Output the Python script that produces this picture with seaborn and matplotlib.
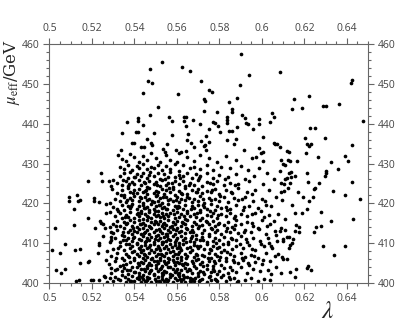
import matplotlib
matplotlib.use("Agg")
import matplotlib.pyplot as plt
import seaborn as sns
import pandas as pd
from matplotlib.ticker import MultipleLocator

# ---------------- data (lambda, mu_eff / GeV) ----------------
sparse_top = [
(.553,455.5),(.5475,453.6),(.5626,454.3),(.566,453.2),(.5713,450.6),(.5466,450.6),(.5482,450.3),
(.5753,448.5),(.544,447.8),(.5604,447.4),(.5727,446.1),(.5734,445.6),(.5512,444.2),(.5727,443.1),
(.5475,442.2),(.5563,441.6),(.5634,441.8),(.5645,441.7),(.5417,441.3),(.5417,440.7),(.5367,440.4),
(.5579,440.7),(.5678,440.9),(.5633,440.6),(.5709,440.0),(.5442,439.6),(.5643,439.4),(.5654,437.3),
(.5408,438.0),(.5419,438.0),(.5342,437.7),(.549,437.7),(.5578,437.1),(.5739,436.9),(.5458,436.1),
(.5388,435.1),(.5399,435.1),(.5479,435.1),(.5485,434.6),(.5648,435.9),(.5666,435.2),(.5714,435.7),
(.5734,434.6),(.5553,434.9),(.5336,433.5),(.5433,434.2),(.5447,434.1),(.5681,434.2),(.5738,433.5),
(.5596,433.3),(.5612,432.7),(.5643,433.2),(.5537,433.6),(.5543,433.0),(.5325,432.1),
]
sparse_mid = [
(.5904,457.5),(.5941,452.3),(.6083,453.0),(.6422,451.0),(.6419,450.3),(.5898,449.6),(.5767,447.9),
(.6221,447.0),(.5882,446.4),(.5847,445.4),(.6149,446.2),(.6362,444.9),(.6288,444.4),(.6302,444.5),
(.6189,443.9),(.6141,443.6),(.5861,443.7),(.5861,442.9),(.5789,442.9),(.6047,442.7),(.6058,441.8),
(.5908,442.1),(.5921,441.3),(.5988,441.1),(.5838,441.6),(.5838,440.8),(.5838,440.1),(.5768,440.5),
(.578,440.2),(.6039,440.5),(.6475,440.6),(.5923,440.2),(.5934,440.0),(.5987,439.8),(.5794,439.3),
(.5803,438.0),(.5957,438.7),(.5882,439.1),(.5753,438.6),(.5846,438.2),(.5859,438.1),(.6227,438.8),
(.6252,439.0),(.6006,436.6),(.5877,436.2),(.5835,435.8),(.6204,436.4),(.6296,436.5),(.6056,435.2),
(.6064,434.8),(.6073,434.9),(.6086,434.2),(.5868,434.8),(.5752,435.3),(.5728,434.5),(.6214,434.9),
(.6232,435.0),(.6221,434.4),(.6422,434.6),(.612,433.2),(.6127,432.9),(.5914,433.5),(.5986,433.8),
(.5996,432.7),(.6007,432.8),(.6208,432.6),(.6265,431.6),(.639,431.9),(.5973,431.6),
]
sparse_right = [
(.6407,430.7),(.6324,430.3),(.6356,428.7),(.6091,430.8),(.6101,430.0),(.6109,429.5),(.6124,430.8),
(.6132,430.6),(.6167,430.7),(.6212,427.7),(.6301,428.0),(.6304,427.5),(.6298,426.8),(.6087,428.0),
(.6108,426.2),(.613,427.6),(.6138,427.8),(.6155,426.9),(.6136,426.7),(.612,426.4),(.6219,425.3),
(.627,425.1),(.6422,425.3),(.6091,425.2),(.6106,424.9),(.6132,425.0),(.6252,423.9),(.6247,423.5),
(.6124,423.9),(.6106,423.0),(.6089,422.9),(.6171,422.8),(.6334,423.1),(.6393,422.1),(.6194,421.6),
(.6243,421.5),(.6224,420.6),(.6464,421.0),(.6095,420.8),(.6142,419.6),(.6212,418.5),(.6157,417.6),
(.6191,417.6),(.6279,417.8),(.643,416.1),(.6327,415.6),(.6111,416.1),(.616,414.6),(.6175,414.1),
(.6158,413.1),(.6174,412.7),(.6255,414.1),(.628,414.3),(.6247,412.9),(.6091,413.7),(.6108,413.3),
(.6086,413.1),(.6101,411.0),(.6117,411.5),(.613,411.5),(.6099,410.6),(.6148,411.0),(.6142,410.0),
(.6132,409.5),(.6127,408.8),(.639,409.4),(.6288,409.2),(.6339,407.0),(.6095,406.6),(.61,406.1),
(.6119,406.1),(.616,403.4),(.6212,403.8),(.6218,404.3),(.6233,403.3),(.6133,402.8),(.6158,401.5),
(.6091,402.6),
(.5935,428.3),(.5965,426.9),(.6005,424.8),(.6035,423.3),(.6055,426.1),(.6065,421.7),(.6045,419.4),
(.6075,417.2),(.6055,415.6),(.6065,412.0),(.6045,409.4),(.6075,407.4),(.6065,404.1),(.6045,402.2),
(.5985,428.9),(.6025,427.5),(.6005,430.6),(.5955,431.4),
]
sparse_left = [
(.5025,413.8),(.5011,408.3),(.5052,407.6),(.503,403.2),(.5056,402.5),(.5075,403.4),(.5091,421.7),
(.5091,420.6),(.5132,422.0),(.5145,420.8),(.5135,420.6),(.5116,418.7),(.5116,414.5),(.5184,416.4),
(.5072,409.9),(.512,408.3),(.5143,408.5),(.5146,404.9),(.5182,405.3),(.5126,400.5),(.5138,400.8),
(.5198,400.8),(.5207,400.8),(.5233,400.8),(.5261,401.6),(.5209,420.5),(.5234,420.3),(.5211,421.3),
(.5182,425.7),(.5245,427.6),(.5248,425.7),(.528,425.7),(.5245,415.1),(.5253,414.8),(.5237,415.6),
(.5264,413.7),(.5253,411.9),(.5286,414.1),(.5233,410.0),(.5234,409.5),(.5231,407.5),(.527,408.1),
(.5268,405.8),(.5257,401.8),(.5284,417.9),(.5286,420.0),(.5268,417.5),(.529,412.9),(.5292,411.6),
(.5284,410.4),(.5292,403.7),(.5308,403.3),(.5284,401.2),(.53,400.6),(.5292,424.4),(.5295,423.5),
(.5301,425.9),(.5268,419.8),(.5215,413.9),(.5188,405.5),
]
core_low = [
(.527,400.3),(.531,401.5),(.533,400.8),(.534,401.9),(.536,400.2),(.537,401.1),(.538,400.6),(.539,401.7),
(.540,400.4),(.541,401.3),(.542,400.9),(.542,401.8),(.543,400.2),(.544,401.0),(.545,400.5),(.546,401.6),
(.546,400.7),(.547,401.2),(.548,400.3),(.549,401.9),(.550,400.6),(.551,401.4),(.552,400.2),(.553,400.9),
(.553,401.7),(.554,400.4),(.555,401.1),(.556,400.7),(.557,401.5),(.558,400.3),(.559,401.2),(.560,400.8),
(.561,401.8),(.562,400.5),(.563,401.0),(.564,400.2),(.565,401.6),(.566,400.6),(.566,401.3),(.567,400.9),
(.568,400.4),(.570,401.7),(.571,400.7),(.572,401.1),(.574,400.3),(.575,401.5),(.576,400.8),(.578,401.0),
(.579,400.5),(.581,401.4),(.583,400.6),(.585,400.9),(.587,401.2),(.589,400.4),(.592,400.7),(.595,401.3),
(.598,400.5),(.601,401.0),(.604,400.8),
(.529,402.4),(.532,403.6),(.534,402.9),(.535,403.8),(.537,402.2),(.538,403.3),(.540,402.7),(.541,403.9),
(.542,402.5),(.543,403.4),(.544,402.1),(.545,403.0),(.546,403.7),(.547,402.6),(.548,403.2),(.549,402.3),
(.550,403.8),(.551,402.9),(.552,403.5),(.553,402.4),(.554,403.1),(.555,402.7),(.556,403.9),(.557,402.2),
(.558,403.4),(.559,402.8),(.560,403.6),(.561,402.5),(.562,403.2),(.563,402.1),(.564,403.7),(.565,402.9),
(.566,403.3),(.567,402.4),(.569,403.8),(.570,402.6),(.571,403.1),(.573,402.3),(.574,403.6),(.576,402.8),
(.577,403.4),(.579,402.2),(.580,403.0),(.582,403.7),(.584,402.5),(.586,403.3),(.588,402.7),(.590,403.9),
(.593,402.4),(.596,403.5),(.599,402.9),(.603,403.2),
(.528,404.8),(.531,405.5),(.533,404.3),(.535,405.9),(.536,404.7),(.538,405.2),(.539,404.1),(.540,405.7),
(.542,404.5),(.543,405.3),(.544,404.9),(.545,405.8),(.546,404.2),(.547,405.1),(.548,404.6),(.549,405.6),
(.550,404.4),(.551,405.0),(.552,405.9),(.553,404.3),(.554,405.4),(.555,404.8),(.556,405.2),(.557,404.1),
(.558,405.7),(.559,404.6),(.560,405.3),(.561,404.9),(.562,405.8),(.563,404.4),(.564,405.1),(.565,404.7),
(.567,405.5),(.568,404.2),(.569,405.9),(.571,404.8),(.572,405.3),(.574,404.5),(.575,405.6),(.577,404.3),
(.578,405.0),(.580,405.8),(.581,404.6),(.583,405.4),(.585,404.1),(.587,405.2),(.589,404.9),(.591,405.7),
(.594,404.4),(.597,405.3),(.600,404.7),(.604,405.6),
(.529,406.9),(.532,407.6),(.534,406.3),(.536,407.2),(.537,406.7),(.539,407.9),(.540,406.4),(.541,407.3),
(.542,406.8),(.543,407.7),(.544,406.2),(.545,407.0),(.546,406.6),(.547,407.5),(.548,406.1),(.549,407.8),
(.550,406.9),(.551,407.4),(.552,406.3),(.553,407.1),(.554,406.7),(.555,407.6),(.556,406.4),(.557,407.9),
(.558,406.8),(.559,407.3),(.560,406.2),(.561,407.7),(.562,406.6),(.564,407.2),(.565,406.9),(.566,407.8),
(.568,406.5),(.569,407.4),(.570,406.1),(.572,407.0),(.573,406.7),(.575,407.6),(.576,406.3),(.578,407.2),
(.579,406.8),(.581,407.9),(.583,406.4),(.585,407.3),(.587,406.9),(.590,407.6),(.592,406.5),(.595,407.1),
(.598,406.2),(.602,407.5),(.606,406.8),
]
core_mid = [
(.530,408.5),(.533,409.3),(.535,408.2),(.536,409.7),(.538,408.9),(.539,409.4),(.540,408.1),(.541,409.8),
(.542,408.7),(.543,409.2),(.544,408.4),(.545,409.6),(.546,408.9),(.547,409.1),(.548,408.3),(.549,409.9),
(.550,408.6),(.551,409.4),(.552,408.2),(.553,409.7),(.554,408.8),(.555,409.2),(.556,408.5),(.557,409.8),
(.558,408.1),(.559,409.5),(.560,408.9),(.561,409.3),(.562,408.4),(.563,409.9),(.565,408.7),(.566,409.1),
(.567,408.3),(.568,409.6),(.570,408.9),(.571,409.3),(.573,408.5),(.574,409.8),(.576,408.2),(.577,409.4),
(.579,408.8),(.580,409.1),(.582,408.4),(.584,409.7),(.586,408.6),(.588,409.3),(.591,408.9),(.594,409.6),
(.597,408.3),(.601,409.2),(.605,408.7),
(.529,410.7),(.531,411.4),(.533,410.2),(.535,411.8),(.536,410.9),(.537,411.3),(.539,410.5),(.540,411.6),
(.541,410.1),(.542,411.1),(.543,410.8),(.544,411.9),(.545,410.4),(.546,411.2),(.547,410.7),(.548,411.5),
(.549,410.3),(.550,411.8),(.551,410.9),(.552,411.3),(.553,410.2),(.554,411.6),(.555,410.6),(.556,411.1),
(.557,410.8),(.558,411.9),(.559,410.4),(.560,411.4),(.561,410.1),(.562,411.7),(.563,410.9),(.564,411.2),
(.566,410.5),(.567,411.8),(.568,410.3),(.569,411.0),(.571,410.7),(.572,411.5),(.574,410.2),(.575,411.9),
(.577,410.6),(.578,411.3),(.580,410.9),(.582,411.6),(.584,410.4),(.586,411.1),(.588,410.8),(.590,411.7),
(.593,410.3),(.596,411.4),(.599,410.6),(.603,411.2),(.607,410.5),
(.530,412.6),(.532,413.3),(.534,412.1),(.535,413.8),(.537,412.9),(.538,413.4),(.539,412.3),(.540,413.1),
(.541,412.7),(.542,413.6),(.543,412.2),(.544,413.9),(.545,412.8),(.546,413.2),(.547,412.4),(.548,413.7),
(.549,412.9),(.550,413.4),(.551,412.1),(.552,413.0),(.553,412.6),(.554,413.8),(.555,412.3),(.556,413.3),
(.557,412.8),(.558,413.5),(.559,412.2),(.560,413.9),(.561,412.7),(.562,413.1),(.564,412.5),(.565,413.6),
(.566,412.9),(.567,413.3),(.569,412.1),(.570,413.8),(.572,412.6),(.573,413.2),(.575,412.4),(.576,413.7),
(.578,412.8),(.579,413.4),(.581,412.2),(.583,413.1),(.585,412.9),(.587,413.6),(.589,412.5),(.592,413.3),
(.595,412.7),(.598,413.9),(.602,412.4),(.606,413.0),
(.530,414.9),(.532,415.6),(.533,414.3),(.535,415.2),(.536,414.7),(.538,415.8),(.539,414.4),(.540,415.3),
(.541,414.1),(.542,415.7),(.543,414.8),(.544,415.1),(.545,414.5),(.546,415.9),(.547,414.2),(.548,415.4),
(.549,414.7),(.550,415.2),(.551,414.9),(.552,415.6),(.553,414.3),(.554,415.0),(.555,414.6),(.556,415.8),
(.557,414.1),(.558,415.3),(.559,414.8),(.560,415.5),(.562,414.4),(.563,415.1),(.564,414.9),(.565,415.7),
(.567,414.2),(.568,415.4),(.569,414.7),(.571,415.9),(.572,414.5),(.574,415.2),(.575,414.8),(.577,415.6),
(.578,414.3),(.580,415.0),(.582,414.6),(.584,415.4),(.586,414.1),(.588,415.8),(.590,414.9),(.593,415.3),
(.596,414.4),(.600,415.7),(.604,414.8),
]
core_high = [
(.531,416.8),(.533,417.5),(.534,416.2),(.536,417.1),(.537,416.6),(.538,417.8),(.540,416.4),(.541,417.3),
(.542,416.9),(.543,417.6),(.544,416.1),(.545,417.2),(.546,416.7),(.547,417.9),(.548,416.3),(.549,417.4),
(.550,416.8),(.551,417.1),(.552,416.5),(.553,417.7),(.554,416.2),(.555,417.3),(.556,416.9),(.557,417.5),
(.559,416.4),(.560,417.8),(.561,416.6),(.562,417.2),(.564,416.1),(.565,417.6),(.566,416.8),(.568,417.3),
(.569,416.5),(.571,417.9),(.572,416.3),(.574,417.1),(.576,416.7),(.577,417.5),(.579,416.2),(.581,417.4),
(.583,416.9),(.585,417.7),(.587,416.4),(.590,417.2),(.593,416.8),(.597,417.6),(.601,416.5),
(.530,419.2),(.532,418.6),(.534,419.7),(.535,418.3),(.537,419.4),(.538,418.9),(.539,419.9),(.541,418.5),
(.542,419.3),(.543,418.1),(.544,419.6),(.545,418.8),(.546,419.1),(.547,418.4),(.548,419.8),(.549,418.7),
(.550,419.3),(.551,418.2),(.552,419.5),(.553,418.9),(.554,419.2),(.555,418.6),(.556,419.9),(.558,418.3),
(.559,419.4),(.560,418.8),(.561,419.1),(.563,418.5),(.564,419.7),(.565,418.2),(.567,419.3),(.568,418.9),
(.570,419.6),(.571,418.4),(.573,419.1),(.574,418.7),(.576,419.8),(.578,418.3),(.579,419.4),(.581,418.9),
(.583,419.2),(.585,418.6),(.588,419.7),(.591,418.4),(.594,419.3),(.598,418.8),(.602,419.5),
(.531,421.2),(.533,420.6),(.535,421.7),(.536,420.3),(.538,421.4),(.539,420.8),(.540,421.9),(.542,420.5),
(.543,421.3),(.544,420.1),(.545,421.6),(.546,420.9),(.547,421.1),(.549,420.4),(.550,421.8),(.551,420.7),
(.552,421.3),(.553,420.2),(.555,421.5),(.556,420.8),(.557,421.2),(.558,420.5),(.560,421.7),(.561,420.3),
(.562,421.0),(.564,420.9),(.565,421.6),(.567,420.4),(.568,421.2),(.570,420.7),(.571,421.8),(.573,420.2),
(.575,421.4),(.576,420.9),(.578,421.1),(.580,420.5),(.582,421.7),(.584,420.3),(.587,421.3),(.589,420.8),
(.592,421.5),(.596,420.6),(.600,421.1),
(.532,422.7),(.534,423.4),(.535,422.2),(.537,423.8),(.538,422.9),(.540,423.3),(.541,422.5),(.542,423.6),
(.544,422.8),(.545,423.1),(.546,422.3),(.547,423.9),(.549,422.6),(.550,423.2),(.551,422.9),(.553,423.7),
(.554,422.4),(.555,423.3),(.557,422.8),(.558,423.5),(.559,422.1),(.561,423.1),(.562,422.7),(.564,423.8),
(.565,422.3),(.567,423.4),(.569,422.9),(.570,423.6),(.572,422.5),(.574,423.2),(.576,422.8),(.578,423.7),
(.580,422.4),(.583,423.3),(.586,422.6),(.589,423.9),(.593,422.9),(.597,423.4),
]
core_top = [
(.532,425.1),(.534,424.6),(.536,425.7),(.537,424.3),(.539,425.4),(.540,424.9),(.542,425.8),(.543,424.5),
(.545,425.2),(.546,424.1),(.547,425.6),(.549,424.8),(.550,425.3),(.552,424.4),(.553,425.9),(.555,424.7),
(.556,425.1),(.558,424.2),(.559,425.5),(.561,424.9),(.563,425.7),(.564,424.4),(.566,425.2),(.568,424.7),
(.570,425.8),(.572,424.3),(.574,425.4),(.577,424.9),(.579,425.6),(.582,424.5),(.585,425.2),(.589,424.8),
(.594,425.5),
(.533,426.8),(.535,427.5),(.537,426.3),(.538,427.9),(.540,426.6),(.541,427.3),(.543,426.9),(.544,427.7),
(.546,426.4),(.547,427.2),(.549,426.8),(.551,427.6),(.552,426.2),(.554,427.4),(.556,426.7),(.557,427.8),
(.559,426.5),(.561,427.1),(.563,426.9),(.565,427.6),(.567,426.3),(.569,427.3),(.571,426.8),(.574,427.5),
(.577,426.4),(.580,427.2),(.584,426.7),(.588,427.4),(.592,426.2),
(.533,429.1),(.535,428.6),(.537,429.7),(.539,428.3),(.541,429.4),(.542,428.8),(.544,429.9),(.546,428.5),
(.548,429.2),(.549,428.9),(.551,429.6),(.553,428.4),(.555,429.3),(.557,428.7),(.559,429.8),(.561,428.2),
(.563,429.5),(.566,428.9),(.568,429.2),(.571,428.6),(.574,429.7),(.577,428.4),(.581,429.1),(.585,428.8),
(.590,429.4),
(.534,431.2),(.536,430.6),(.538,432.4),(.540,431.7),(.542,430.3),(.544,431.9),(.546,430.8),(.548,432.6),
(.550,431.4),(.552,430.5),(.555,432.1),(.557,431.0),(.560,430.4),(.562,432.8),(.565,431.6),(.568,430.7),
(.571,432.2),(.575,431.3),(.579,430.5),(.583,431.8),(.588,430.9),
]
core_extra = [
(.5325,400.9),(.5355,401.4),(.5385,400.5),(.5405,402.8),(.5435,401.6),(.5455,400.4),(.5475,402.9),(.5495,401.1),
(.5515,400.6),(.5535,402.2),(.5555,400.3),(.5575,401.9),(.5595,403.1),(.5615,400.9),(.5635,401.6),(.5655,403.4),
(.5685,401.2),(.5705,400.5),(.5725,402.7),(.5755,401.8),(.5785,400.8),(.5815,402.1),(.5845,401.6),(.5885,400.3),
(.5365,403.3),(.5445,403.5),(.5525,403.8),(.5605,402.3),(.5665,400.4),(.5775,403.1),
(.5315,406.2),(.5345,404.6),(.5375,406.5),(.5415,405.0),(.5445,407.3),(.5465,404.5),(.5485,406.4),(.5505,405.4),
(.5525,407.2),(.5545,404.9),(.5565,406.1),(.5585,405.2),(.5605,407.4),(.5625,404.7),(.5645,406.3),(.5675,405.1),
(.5695,407.1),(.5725,404.2),(.5745,406.2),(.5775,405.5),(.5805,406.6),(.5835,407.7),(.5865,405.7),(.5905,406.3),
(.5935,405.0),(.5965,406.8),(.6005,405.9),
(.5325,408.9),(.5345,410.9),(.5375,409.8),(.5395,411.2),(.5425,408.6),(.5455,410.5),(.5475,409.5),(.5495,411.1),
(.5515,408.9),(.5535,410.4),(.5555,411.8),(.5575,409.1),(.5595,410.9),(.5615,408.7),(.5645,410.2),(.5665,411.4),
(.5695,409.3),(.5725,410.8),(.5755,408.6),(.5785,410.1),(.5815,409.7),(.5855,411.3),(.5895,409.9),(.5925,411.1),
(.5955,408.5),(.5995,409.8),(.6035,410.1),
(.5315,414.2),(.5345,412.9),(.5365,415.1),(.5395,413.7),(.5425,414.9),(.5445,412.6),(.5475,414.0),(.5495,415.5),
(.5515,413.5),(.5535,414.7),(.5555,412.4),(.5575,414.4),(.5595,413.2),(.5625,415.2),(.5645,413.8),(.5675,412.9),
(.5705,414.3),(.5735,415.6),(.5765,413.5),(.5795,414.9),(.5835,413.7),(.5875,414.5),(.5915,412.7),(.5955,415.1),
(.5985,413.6),(.6025,414.3),
(.5325,418.2),(.5355,416.5),(.5385,419.3),(.5415,417.7),(.5445,418.9),(.5465,416.6),(.5495,418.1),(.5515,419.6),
(.5535,416.9),(.5555,418.5),(.5585,417.3),(.5605,419.3),(.5635,416.9),(.5665,418.7),(.5695,417.6),(.5725,419.5),
(.5755,418.1),(.5795,417.0),(.5835,418.4),(.5875,416.9),(.5915,419.0),(.5955,417.4),(.5995,418.2),(.6035,417.0),
(.5335,422.1),(.5365,420.9),(.5395,422.6),(.5425,421.5),(.5455,423.4),(.5485,420.6),(.5505,422.2),(.5535,421.6),
(.5565,423.9),(.5595,420.9),(.5625,422.4),(.5655,421.3),(.5695,422.9),(.5725,421.1),(.5765,423.3),(.5805,421.9),
(.5855,422.8),(.5905,421.2),(.5955,422.3),(.6015,420.7),
(.5345,425.9),(.5375,424.9),(.5405,426.5),(.5445,425.4),(.5475,427.9),(.5505,424.5),(.5545,426.1),(.5575,425.0),
(.5615,426.3),(.5655,424.6),(.5705,426.4),(.5755,425.1),(.5825,426.0),(.5875,424.6),
]

x_ticks = [0.5, 0.52, 0.54, 0.56, 0.58, 0.6, 0.62, 0.64]
x_tick_labels = ["0.5", "0.52", "0.54", "0.56", "0.58", "0.6", "0.62", "0.64"]
y_ticks = [400, 410, 420, 430, 440, 450, 460]
y_tick_labels = ["400", "410", "420", "430", "440", "450", "460"]

# ---------------- figure ----------------
sns.set_style("ticks")
plt.rcParams["font.family"] = ["Open Sans", "DejaVu Sans"]
plt.rcParams["mathtext.fontset"] = "stix"

points = (sparse_top + sparse_mid + sparse_right + sparse_left +
          core_low + core_mid + core_high + core_top + core_extra)
df = pd.DataFrame(points, columns=["lam", "mu"])

fig = plt.figure(figsize=(4.15, 3.25), dpi=100)
ax = fig.add_axes([0.119, 0.1292, 0.768, 0.7354])

sns.scatterplot(data=df, x="lam", y="mu", s=7, color="black", linewidth=0, ax=ax, legend=False)

ax.set_xlim(0.5, 0.65)
ax.set_ylim(400, 460)
ax.set_xticks(x_ticks)
ax.set_xticklabels(x_tick_labels)
ax.set_yticks(y_ticks)
ax.set_yticklabels(y_tick_labels)
ax.xaxis.set_minor_locator(MultipleLocator(0.005))
ax.yaxis.set_minor_locator(MultipleLocator(2))
ax.set_xlabel("")
ax.set_ylabel("")

spine_col = "#666666"
for sp in ax.spines.values():
    sp.set_visible(True)
    sp.set_color(spine_col)
    sp.set_linewidth(0.8)

ax.tick_params(which="both", direction="out", top=True, right=True,
               labeltop=True, labelright=True, color=spine_col, width=0.8,
               labelsize=7.5, labelcolor="#444444")
ax.tick_params(which="major", length=4, pad=3)
ax.tick_params(which="minor", length=2.2)

fig.text(12 / 415, 1 - 72 / 325, r"$\mu_{\rm eff}$/GeV", rotation=90,
         ha="center", va="center", fontsize=12, family="serif",
         math_fontfamily="stix")
fig.text(328 / 415, 1 - 312 / 325, r"$\lambda$", ha="center", va="center",
         fontsize=18, math_fontfamily="stix")

fig.savefig("out.png", dpi=100)
